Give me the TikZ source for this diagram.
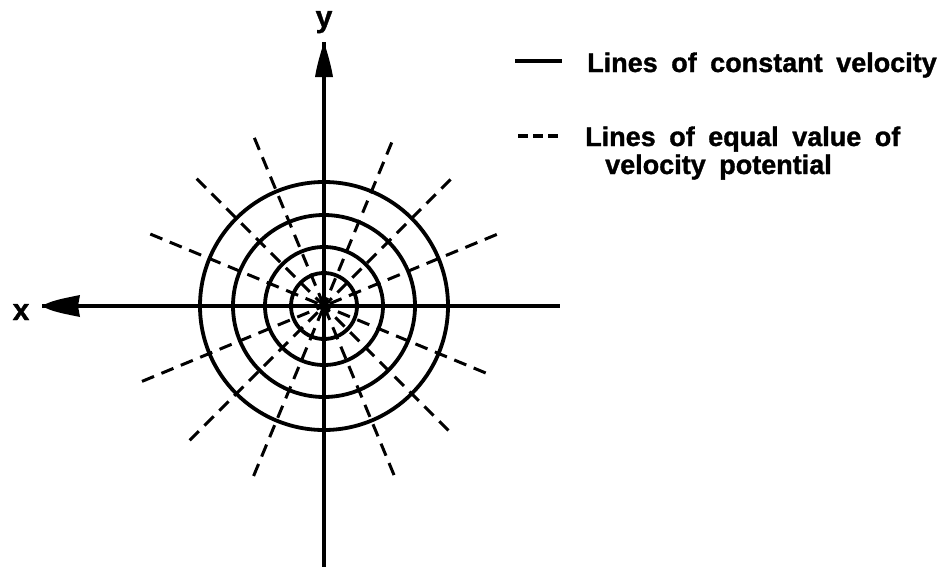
\documentclass[tikz,border=0pt]{standalone}
\usepackage{fontspec}
\setmainfont[WordSpace=1.8, BoldFeatures={FakeBold=1.2}]{Liberation Sans}
\usetikzlibrary{calc}
\begin{document}
\begin{tikzpicture}[x=1pt,y=-1pt,
  velcircle/.style={line width=3.8pt},
  axisline/.style={line width=3.4pt},
  potline/.style={line width=3pt, dash pattern=on 13pt off 8pt},
  lbl/.style={font=\fontsize{30}{34}\selectfont\bfseries, inner sep=0pt},
  legtxt/.style={lbl, font=\fontsize{27}{33}\selectfont\bfseries, anchor=base west}]
\useasboundingbox (0,0) rectangle (944,570);
\coordinate (C) at (324,306);
% axes
\coordinate (xtip) at (42,306);
\coordinate (xend) at (560,306);
\coordinate (ytip) at (324,42);
\coordinate (yend) at (324,567);
\draw[axisline] (xtip) -- (xend);
\draw[axisline] (ytip) -- (yend);
\fill (xtip) .. controls (52,300) and (66,298) .. (80,295) -- (78,306) -- (80,317) .. controls (66,314) and (52,312) .. (xtip) -- cycle;
\fill (ytip) .. controls (320,55) and (317,65) .. (315,77) -- (333,77) .. controls (331,65) and (328,55) .. (ytip) -- cycle;
% circles of constant velocity
\foreach \r in {124,91,59,33} \draw[velcircle] (C) circle (\r);
% lines of equal velocity potential
\foreach \a/\l in {22.5/187,45/179,67.5/177,112.5/182,135/180,157.5/188,202.5/197,225/190,247.5/184,292.5/183,315/176,337.5/175}
  \draw[potline] ($(C)+(-\a:\l)$) -- (C);
\fill (C) circle (5);
% labels
\node[lbl, anchor=base] (xl) at (21,320) {x};
\node[lbl, anchor=base] (yl) at (324,27) {y};
% legend
\coordinate (s1) at (515,61); \coordinate (s2) at (562,61);
\draw[line width=3.4pt] (s1) -- (s2);
\coordinate (d1) at (518,136); \coordinate (d2) at (562,136);
\draw[line width=3.4pt, dash pattern=on 10pt off 5pt] (d1) -- (d2);
\node[legtxt] (t1) at (587,72) {Lines of constant velocity};
\node[legtxt] (t2) at (585,146) {Lines of equal value of};
\node[legtxt] (t3) at (605,174) {velocity potential};
\end{tikzpicture}
\end{document}
